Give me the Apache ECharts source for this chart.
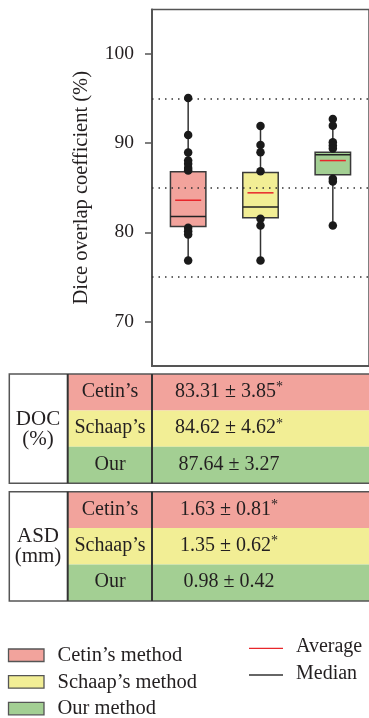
<!DOCTYPE html>
<html>
<head>
<meta charset="utf-8">
<script src="https://cdn.jsdelivr.net/npm/echarts@6/dist/echarts.min.js"></script>
<style>
html,body{margin:0;padding:0;background:#fff;}
#chart{width:369px;height:718px;}
</style>
</head>
<body>
<div id="chart"></div>
<script>
// ---- data ----
const categories = ["Cetin’s method", "Schaap’s method", "Our method"];
const shortNames = ["Cetin’s", "Schaap’s", "Our"];
const whiskerLow = [76.85, 76.85, 80.77];
const q1 = [80.66, 81.64, 86.45];
const median = [81.78, 82.83, 88.69];
const q3 = [86.8, 86.7, 88.98];
const whiskerHigh = [95.07, 91.94, 92.72];
const mean = [83.6, 84.43, 88.05];
const pointsCetin = [95.07, 90.93, 88.95, 88.05, 87.68, 87.23, 86.93, 80.52, 80.13, 79.76, 76.85];
const pointsSchaap = [91.94, 89.81, 88.98, 86.85, 81.52, 80.77, 76.85];
const pointsOur = [92.72, 91.97, 90.1, 89.73, 89.4, 86.0, 85.7, 80.77];
const refLines = [75, 85, 95];
const yTicks = [70, 80, 90, 100];
const docValues = ["83.31 ± 3.85", "84.62 ± 4.62", "87.64 ± 3.27"];
const docStar = [true, true, false];
const asdValues = ["1.63 ± 0.81", "1.35 ± 0.62", "0.98 ± 0.42"];
const asdStar = [true, true, false];
const tableLabels = [["DOC", "(%)"], ["ASD", "(mm)"]];
const legendLines = ["Average", "Median"];

// ---- styles ----
const FONT = "'Liberation Serif', 'Times New Roman', serif";
const TXT = '#231F20';
const fills = ['#F2A39C', '#F2EE95', '#A3CF93'];
const AX = '#555';

const boxData = categories.map((c, i) => [i, whiskerLow[i], q1[i], median[i], q3[i], whiskerHigh[i], mean[i]]);
const pointData = [];
[pointsCetin, pointsSchaap, pointsOur].forEach((arr, i) => arr.forEach(v => pointData.push([i, v])));

// ---- table & legend graphics ----
const graphics = [];
const rowH = 36.4;
const tables = [
  {top: 374, values: docValues, stars: docStar, labels: tableLabels[0]},
  {top: 491.7, values: asdValues, stars: asdStar, labels: tableLabels[1]}
];
tables.forEach(t => {
  for (let r = 0; r < 3; r++) {
    graphics.push({type: 'rect', shape: {x: 67.7, y: t.top + r * rowH, width: 310, height: rowH}, style: {fill: fills[r]}, z: 1});
    graphics.push({type: 'text', x: 110, y: t.top + r * rowH + rowH / 2 - 0.5, style: {text: shortNames[r], font: '20px ' + FONT, fill: TXT, align: 'center', verticalAlign: 'middle'}, z: 3});
    graphics.push({type: 'text', x: 229, y: t.top + r * rowH + rowH / 2 - 0.5, style: {
      text: '{m|' + t.values[r] + '}' + (t.stars[r] ? '{s|*}' : ''),
      align: 'center', verticalAlign: 'middle',
      rich: {m: {font: '20px ' + FONT, fill: TXT, color: TXT, lineHeight: 22}, s: {font: '14px ' + FONT, fill: TXT, color: TXT, verticalAlign: 'top', lineHeight: 22}}
    }, z: 3});
  }
  const h = rowH * 3;
  graphics.push({type: 'rect', shape: {x: 9.3, y: t.top, width: 380, height: h}, style: {fill: 'none', stroke: '#555', lineWidth: 1.5}, z: 4});
  graphics.push({type: 'line', shape: {x1: 67.7, y1: t.top, x2: 67.7, y2: t.top + h}, style: {stroke: '#333', lineWidth: 2}, z: 4});
  graphics.push({type: 'line', shape: {x1: 152, y1: t.top, x2: 152, y2: t.top + h}, style: {stroke: '#333', lineWidth: 2}, z: 4});
  graphics.push({type: 'text', x: 38, y: t.top + h / 2 - 9.5, style: {text: t.labels[0], font: '21px ' + FONT, fill: TXT, align: 'center', verticalAlign: 'middle'}, z: 3});
  graphics.push({type: 'text', x: 38, y: t.top + h / 2 + 10.5, style: {text: t.labels[1], font: '21px ' + FONT, fill: TXT, align: 'center', verticalAlign: 'middle'}, z: 3});
});
// legend swatches
const swY = [649, 675.7, 702.3];
categories.forEach((c, i) => {
  graphics.push({type: 'rect', shape: {x: 8.5, y: swY[i], width: 35.5, height: 12.5}, style: {fill: fills[i], stroke: '#555', lineWidth: 1.3}, z: 3});
  graphics.push({type: 'text', x: 57.5, y: swY[i] + 6.5, style: {text: c, font: '20.5px ' + FONT, fill: TXT, align: 'left', verticalAlign: 'middle'}, z: 3});
});
const lnY = [648.3, 675];
const lnC = ['#E8262B', '#333'];
legendLines.forEach((n, i) => {
  graphics.push({type: 'line', shape: {x1: 249, y1: lnY[i], x2: 283, y2: lnY[i]}, style: {stroke: lnC[i], lineWidth: 1.3}, z: 3});
  graphics.push({type: 'text', x: 296, y: lnY[i] - 1.5, style: {text: n, font: '20px ' + FONT, fill: TXT, align: 'left', verticalAlign: 'middle'}, z: 3});
});

const chart = echarts.init(document.getElementById('chart'));
chart.setOption({
  animation: false,
  backgroundColor: '#fff',
  grid: {left: 152, top: 9.5, width: 220, height: 356.5, show: true, borderColor: AX, borderWidth: 1.5, backgroundColor: 'transparent'},
  xAxis: {
    type: 'category', data: categories, boundaryGap: true,
    axisLine: {lineStyle: {color: AX, width: 2}},
    axisTick: {alignWithLabel: true, length: 7, lineStyle: {color: AX, width: 1.5}},
    axisLabel: {show: false}, splitLine: {show: false}
  },
  yAxis: {
    type: 'value', min: 65, max: 105,
    name: 'Dice overlap coefficient (%)', nameLocation: 'middle', nameGap: 60,
    nameTextStyle: {fontFamily: FONT, fontSize: 20.5, color: TXT},
    axisLine: {show: true, lineStyle: {color: AX, width: 2}},
    axisTick: {show: true, customValues: yTicks, length: 7, lineStyle: {color: AX, width: 1.5}},
    axisLabel: {customValues: yTicks, fontFamily: FONT, fontSize: 19.5, color: TXT, margin: 18},
    splitLine: {show: false}
  },
  series: [
    {
      type: 'custom', data: boxData, z: 2,
      encode: {x: 0, y: [1, 2, 3, 4, 5, 6]},
      renderItem: function (params, api) {
        const i = api.value(0);
        const lo = api.coord([i, api.value(1)]);
        const b = api.coord([i, api.value(2)]);
        const md = api.coord([i, api.value(3)]);
        const t = api.coord([i, api.value(4)]);
        const hi = api.coord([i, api.value(5)]);
        const mn = api.coord([i, api.value(6)]);
        const band = api.size([1, 0])[0];
        const bw = band * 0.49;
        const mw = band * 0.36;
        const x = lo[0];
        return {type: 'group', children: [
          {type: 'line', shape: {x1: x, y1: lo[1], x2: x, y2: hi[1]}, style: {stroke: '#333', lineWidth: 1.5}},
          {type: 'rect', shape: {x: x - bw / 2, y: t[1], width: bw, height: b[1] - t[1]}, style: {fill: fills[i], stroke: '#3a3a3a', lineWidth: 1.5}},
          {type: 'line', shape: {x1: x - bw / 2, y1: md[1], x2: x + bw / 2, y2: md[1]}, style: {stroke: '#222', lineWidth: 1.5}},
          {type: 'line', shape: {x1: x - mw / 2, y1: mn[1], x2: x + mw / 2, y2: mn[1]}, style: {stroke: '#E8262B', lineWidth: 1.5}}
        ]};
      }
    },
    {
      type: 'scatter', data: pointData, symbolSize: 8.5, z: 5,
      itemStyle: {color: '#1a1a1a', opacity: 1},
      markLine: {
        silent: true, symbol: 'none', animation: false,
        label: {show: false},
        lineStyle: {color: '#333', type: [1.5, 5], width: 1.5},
        data: refLines.map(v => ({yAxis: v}))
      }
    }
  ],
  graphic: graphics
});
</script>
</body>
</html>
